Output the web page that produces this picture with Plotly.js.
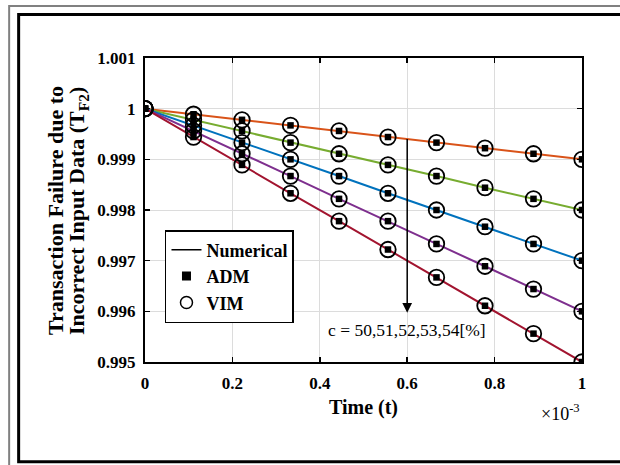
<!DOCTYPE html>
<html>
<head>
<meta charset="utf-8">
<script src="https://cdn.plot.ly/plotly-3.0.1.min.js"></script>
<style>html,body{margin:0;padding:0;background:#fff;}#chart{width:620px;height:465px;}</style>
</head>
<body>
<div id="chart"></div>
<script>
// ---- data (time in seconds; axis shows x10^-3) ----
const t = [0, 0.000111, 0.000222, 0.000333, 0.000444, 0.000556, 0.000667, 0.000778, 0.000889, 0.001];
const c50 = [1, 0.99989, 0.99978, 0.99967, 0.99956, 0.99944, 0.99933, 0.99922, 0.99911, 0.999];
const c51 = [1, 0.99978, 0.99956, 0.99933, 0.99911, 0.99889, 0.99867, 0.99844, 0.99822, 0.998];
const c52 = [1, 0.99967, 0.99933, 0.99900, 0.99867, 0.99833, 0.99800, 0.99767, 0.99733, 0.997];
const c53 = [1, 0.99956, 0.99911, 0.99867, 0.99822, 0.99778, 0.99733, 0.99689, 0.99644, 0.996];
const c54 = [1, 0.99944, 0.99889, 0.99833, 0.99778, 0.99722, 0.99667, 0.99611, 0.99556, 0.995];
const seriesNames = ['c = 50%', 'c = 51%', 'c = 52%', 'c = 53%', 'c = 54%'];
const xTickVals = [0, 0.0002, 0.0004, 0.0006, 0.0008, 0.001];
const xTickText = ['0', '0.2', '0.4', '0.6', '0.8', '1'];
const yTickVals = [0.995, 0.996, 0.997, 0.998, 0.999, 1, 1.001];
const yTickText = ['0.995', '0.996', '0.997', '0.998', '0.999', '1', '1.001'];
const legendNames = ['Numerical', 'ADM', 'VIM'];
const yTitleLines = ['Transaction Failure due to', 'Incorrect Input Data (T<sub>F2</sub>)'];

// ---- styling ----
const colors = ['#D95319', '#77AC30', '#0072BD', '#7E2F8E', '#A2142F'];
const serif = 'Liberation Serif, Times New Roman, serif';
const L = 145, R = 582.5, T = 58, B = 362;
const px = x => (x - L) / (R - L);
const py = y => (B - y) / (B - T);

const allY = [c50, c51, c52, c53, c54];
const traces = [];
allY.forEach((ys, i) => {
  traces.push({x: t, y: ys, mode: 'lines', name: seriesNames[i], showlegend: false,
    line: {color: colors[i], width: 2}});
});
allY.forEach((ys, i) => {
  traces.push({x: t, y: ys, mode: 'markers', showlegend: false,
    marker: {symbol: 'square', color: 'black', size: 6.5}});
});
allY.forEach((ys, i) => {
  traces.push({x: t, y: ys, mode: 'markers', showlegend: false,
    marker: {symbol: 'circle-open', color: 'black', size: 15.5, line: {width: 1.8, color: 'black'}}});
});
// legend entries
traces.push({x: [null], y: [null], mode: 'lines', name: legendNames[0], line: {color: 'black', width: 1.5}});
traces.push({x: [null], y: [null], mode: 'markers', name: legendNames[1], marker: {symbol: 'square', color: 'black', size: 9}});
traces.push({x: [null], y: [null], mode: 'markers', name: legendNames[2], marker: {symbol: 'circle-open', color: 'black', size: 12, line: {width: 1.5}}});

const axisCommon = {
  showline: true, linecolor: 'black', linewidth: 2, mirror: 'ticks',
  ticks: 'inside', ticklen: 5, tickwidth: 1.5, tickcolor: 'black',
  showgrid: true, gridcolor: '#dcdcdc', gridwidth: 1, zeroline: false,
  tickfont: {family: serif, size: 17, color: 'black', weight: 'bold'}
};

const layout = {
  width: 620, height: 465,
  margin: {l: L, r: 620 - R, t: T, b: 465 - B},
  paper_bgcolor: 'white', plot_bgcolor: 'white',
  showlegend: true,
  xaxis: Object.assign({}, axisCommon, {
    range: [0, 0.001], tickvals: xTickVals, ticktext: xTickText,
    ticklabelstandoff: 5,
    title: {text: 'Time (t)', font: {family: serif, size: 20, color: 'black', weight: 'bold'}, standoff: 8}
  }),
  yaxis: Object.assign({}, axisCommon, {
    range: [0.995, 1.001], tickvals: yTickVals, ticktext: yTickText,
    ticklabelstandoff: 4
  }),
  legend: {x: px(165), y: py(230), xanchor: 'left', yanchor: 'top',
    bgcolor: 'white', bordercolor: 'black', borderwidth: 1.5,
    font: {family: serif, size: 18, color: 'black', weight: 'bold'},
    itemwidth: 30, tracegroupgap: 0},
  annotations: [
    {x: 0.0006, y: 0.99597, ax: 0.0006, ay: 0.99943, xref: 'x', yref: 'y', axref: 'x', ayref: 'y',
      showarrow: true, arrowhead: 2, arrowsize: 1.3, arrowwidth: 1.5, arrowcolor: 'black', text: ''},
    {x: 0.0006, y: 0.99563, xref: 'x', yref: 'y', showarrow: false,
      text: 'c = 50,51,52,53,54[%]', font: {family: serif, size: 17.5, color: 'black'}},
    {x: px(583), y: py(413), xref: 'paper', yref: 'paper', xanchor: 'right', yanchor: 'middle',
      showarrow: false, text: '\u00d710<sup>-3</sup>', font: {family: serif, size: 18, color: 'black'}},
    {x: px(55), y: py(211), xref: 'paper', yref: 'paper', xanchor: 'center', yanchor: 'middle',
      textangle: -90, showarrow: false, text: yTitleLines[0],
      font: {family: serif, size: 22, color: 'black', weight: 'bold'}},
    {x: px(78), y: py(211), xref: 'paper', yref: 'paper', xanchor: 'center', yanchor: 'middle',
      textangle: -90, showarrow: false, text: yTitleLines[1],
      font: {family: serif, size: 22, color: 'black', weight: 'bold'}}
  ],
  shapes: [
    {type: 'rect', xref: 'paper', yref: 'paper', x0: px(9), x1: px(640), y0: py(6), y1: py(480),
      line: {color: '#808080', width: 2}},
    {type: 'rect', xref: 'paper', yref: 'paper', x0: px(18.5), x1: px(640), y0: py(14.5), y1: py(461.7),
      line: {color: 'black', width: 3}}
  ]
};

Plotly.newPlot('chart', traces, layout, {staticPlot: true, displayModeBar: false});
</script>
</body>
</html>
